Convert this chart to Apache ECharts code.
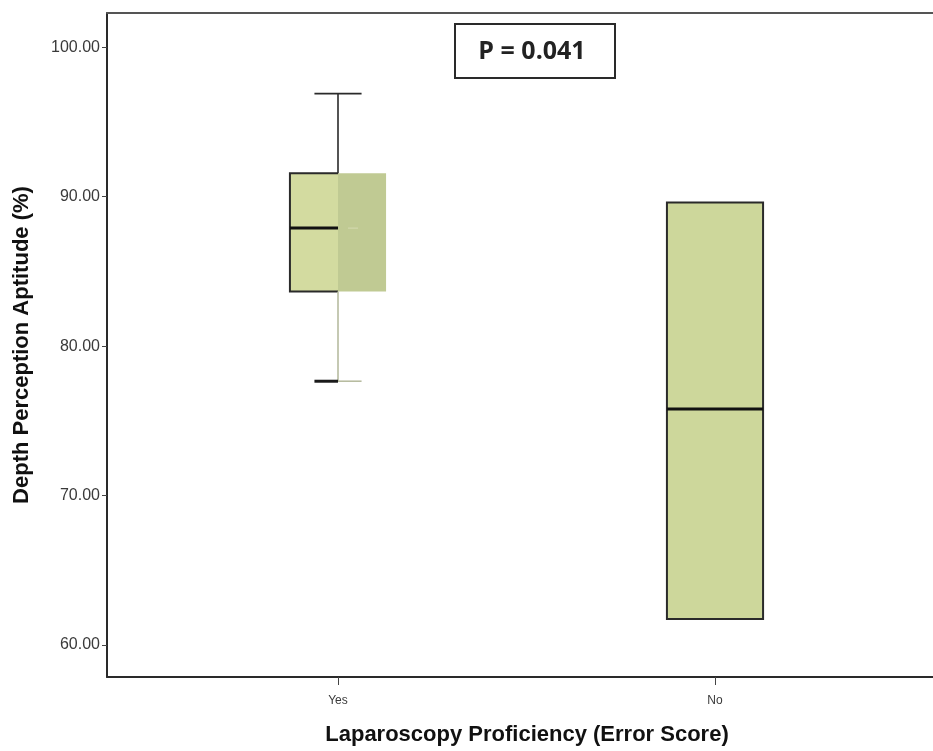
<!DOCTYPE html>
<html>
<head>
<meta charset="utf-8">
<title>Depth Perception Aptitude by Laparoscopy Proficiency</title>
<script src="https://cdn.jsdelivr.net/npm/echarts@6/dist/echarts.min.js"></script>
<style>
  html, body { margin: 0; padding: 0; background: #ffffff; }
  #chart { width: 933px; height: 751px; }
</style>
</head>
<body>
<div id="chart"></div>
<script>
// Groups on the x axis
const categories = ['Yes', 'No'];

// Five-number summaries per group (Depth Perception Aptitude, %)
const whiskerLow  = [77.65, 61.73];
const quartile1   = [83.65, 61.73];
const medians     = [87.90, 75.79];
const quartile3   = [91.57, 89.61];
const whiskerHigh = [96.90, 89.61];

// Y axis tick labels
const yTickValues = [60, 70, 80, 90, 100];

// Annotation
const pValueText = 'P = 0.041';

// ---- rendering settings ----
const BOX_WIDTH = 0.255;      // box width in category units
const CAP_HALF = 0.0625;      // half width of whisker caps in category units
const LINE_DARK = '#2a2a2a';
const FONT = '"Liberation Sans", Arial, sans-serif';

// Per-group drawing style: the first group uses a two-tone box
const boxStyles = [
  { split: true,  fillLeft: '#d3dba0', fillRight: '#c0ca93', faint: '#b7bca0' },
  { split: false, fill: '#cdd79b' }
];

const boxData = categories.map((c, i) => [
  i, whiskerLow[i], quartile1[i], medians[i], quartile3[i], whiskerHigh[i]
]);

function renderBox(params, api) {
  const i = api.value(0);
  const st = boxStyles[params.dataIndex];
  const lo = api.coord([i, api.value(1)]);
  const q1 = api.coord([i, api.value(2)]);
  const md = api.coord([i, api.value(3)]);
  const q3 = api.coord([i, api.value(4)]);
  const hi = api.coord([i, api.value(5)]);
  const unit = api.size([1, 0])[0];
  const xc = q1[0];
  const x0 = xc - unit * BOX_WIDTH / 2;
  const x1 = xc + unit * BOX_WIDTH / 2;
  const cap = unit * CAP_HALF;
  const children = [];
  const line = (xa, ya, xb, yb, color, w) => ({
    type: 'line',
    shape: { x1: xa, y1: ya, x2: xb, y2: yb },
    style: { stroke: color, lineWidth: w, lineCap: 'butt' }
  });

  if (st.split) {
    children.push({ type: 'rect', shape: { x: x0, y: q3[1], width: xc - x0, height: q1[1] - q3[1] },
      style: { fill: st.fillLeft } });
    children.push({ type: 'rect', shape: { x: xc, y: q3[1], width: x1 - xc, height: q1[1] - q3[1] },
      style: { fill: st.fillRight } });
    // upper whisker and cap
    children.push(line(xc, hi[1], xc, q3[1], LINE_DARK, 1.6));
    children.push(line(xc - cap, hi[1], xc + cap, hi[1], LINE_DARK, 1.6));
    // outline on left half
    children.push({ type: 'polyline',
      shape: { points: [[xc, q3[1]], [x0, q3[1]], [x0, q1[1]], [xc, q1[1]]] },
      style: { stroke: LINE_DARK, lineWidth: 2, fill: null } });
    // median
    children.push(line(x0, md[1], xc, md[1], '#111111', 3));
    children.push(line(xc + 10, md[1], xc + 20, md[1], '#d6dbb2', 1));
    // lower whisker and cap
    children.push(line(xc, q1[1], xc, lo[1], st.faint, 1.6));
    children.push(line(xc - cap, lo[1], xc, lo[1], '#1a1a1a', 3));
    children.push(line(xc, lo[1], xc + cap, lo[1], st.faint, 1.6));
  } else {
    children.push({ type: 'rect', shape: { x: x0, y: q3[1], width: x1 - x0, height: q1[1] - q3[1] },
      style: { fill: st.fill, stroke: LINE_DARK, lineWidth: 2 } });
    children.push(line(xc, hi[1], xc, q3[1], LINE_DARK, 1.6));
    children.push(line(xc, q1[1], xc, lo[1], LINE_DARK, 1.6));
    children.push(line(x0, md[1], x1, md[1], '#111111', 3));
  }
  return { type: 'group', children };
}

const chart = echarts.init(document.getElementById('chart'), null, { renderer: 'canvas' });

const gridLeft = 107, gridTop = 13, gridBottom = 71;
const catSpacing = 377;          // px between group centres
const firstCenter = 338;          // px of first group centre
const xMin = -(firstCenter - gridLeft) / catSpacing;
const xMax = (933 - firstCenter) / catSpacing;

chart.setOption({
  animation: false,
  backgroundColor: '#ffffff',
  grid: {
    left: gridLeft, right: 0, top: gridTop, bottom: gridBottom, show: false
  },
  xAxis: [{
    type: 'value',
    min: xMin,
    max: xMax,
    splitLine: { show: false },
    axisLine: { show: true, onZero: false, lineStyle: { color: '#2a2a2a', width: 2 } },
    axisTick: { show: true, length: 8, lineStyle: { color: '#444', width: 1 },
      customValues: categories.map((c, i) => i) },
    axisLabel: {
      customValues: categories.map((c, i) => i),
      formatter: v => categories[Math.round(v)] ?? '',
      color: '#3a3a3a', fontSize: 12, fontFamily: FONT, margin: 18
    },
    name: 'Laparoscopy Proficiency (Error Score)',
    nameLocation: 'middle',
    nameGap: 47,
    nameTextStyle: { color: '#111', fontSize: 22, fontWeight: 'bold', fontFamily: FONT,
      padding: [0, 0, 0, 14] }
  }, {
    // top edge of the plot frame
    type: 'value',
    position: 'top',
    min: xMin,
    max: xMax,
    splitLine: { show: false },
    axisLine: { show: true, onZero: false, lineStyle: { color: '#555555', width: 2 } },
    axisTick: { show: false },
    axisLabel: { show: false }
  }],
  yAxis: {
    type: 'value',
    min: 57.85,
    max: 102.3,
    splitLine: { show: false },
    axisLine: { show: true, onZero: false, lineStyle: { color: '#2a2a2a', width: 2 } },
    axisTick: { show: true, length: 5, lineStyle: { color: '#444', width: 1 }, customValues: yTickValues },
    axisLabel: {
      customValues: yTickValues,
      formatter: v => v.toFixed(2),
      color: '#3a3a3a', fontSize: 16, fontFamily: FONT, margin: 7
    },
    name: 'Depth Perception Aptitude (%)',
    nameLocation: 'middle',
    nameGap: 74,
    nameTextStyle: { color: '#111', fontSize: 22, fontWeight: 'bold', fontFamily: FONT }
  },
  series: [{
    type: 'custom',
    renderItem: renderBox,
    encode: { x: 0, y: [1, 2, 3, 4, 5] },
    data: boxData,
    clip: false,
    z: 5
  }],
  graphic: [{
    type: 'group',
    left: 454,
    top: 23,
    children: [
      { type: 'rect', shape: { x: 0, y: 0, width: 160, height: 54 },
        style: { fill: '#ffffff', stroke: '#2a2a2a', lineWidth: 2 } },
      { type: 'text', x: 77, y: 28,
        style: { text: pValueText, fill: '#222', font: 'bold 25px "Open Sans", Lato, sans-serif',
          textAlign: 'center', textVerticalAlign: 'middle' } }
    ]
  }]
});
</script>
</body>
</html>
